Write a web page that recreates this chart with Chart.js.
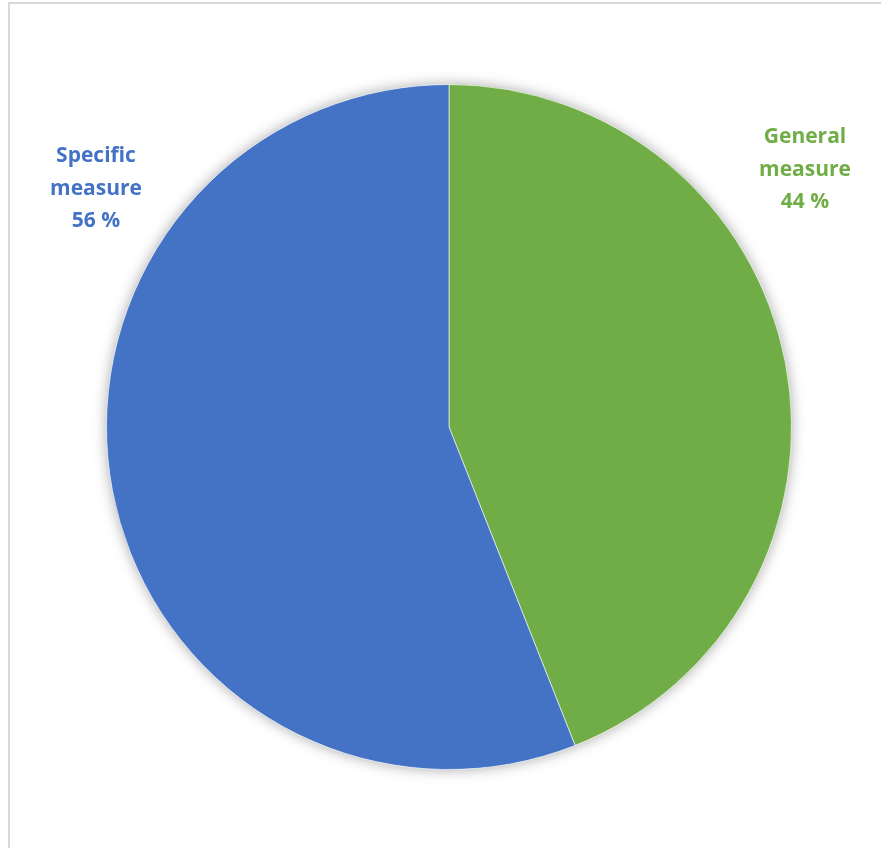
<!DOCTYPE html>
<html>
<head>
<meta charset="utf-8">
<script src="https://cdn.jsdelivr.net/npm/chart.js@4/dist/chart.umd.min.js"></script>
<style>
  html, body { margin: 0; padding: 0; background: #fff; overflow: hidden; }
  #frame {
    position: absolute; left: 8px; top: 2px;
    width: 1000px; height: 1000px;
    border-left: 2px solid #d9d9d9; border-top: 2px solid #d9d9d9;
  }
  #wrap { position: absolute; left: 0; top: 0; width: 881px; height: 848px; }
</style>
</head>
<body>
<div id="frame"></div>
<div id="wrap"><canvas id="pieChart" width="881" height="848"></canvas></div>
<script>
const labels = ["General measure", "Specific measure"];
const shares = [44, 56];
const colors = ["#70AD47", "#4472C4"];

// where each slice's text block sits (centre x, first baseline y)
const labelSpots = [
  { x: 805, y: 143 },
  { x: 96, y: 162 }
];

// soft grey halo behind the whole pie
const pieShadow = {
  id: "pieShadow",
  beforeDatasetsDraw(chart) {
    const arc = chart.getDatasetMeta(0).data[0];
    if (!arc) return;
    const ctx = chart.ctx;
    ctx.save();
    ctx.shadowColor = "rgba(0,0,0,0.35)";
    ctx.shadowBlur = 14;
    ctx.fillStyle = "#ffffff";
    ctx.beginPath();
    ctx.arc(arc.x, arc.y, arc.outerRadius, 0, Math.PI * 2);
    ctx.fill();
    ctx.restore();
  }
};

// category name split over two lines, then the percentage
const sliceLabels = {
  id: "sliceLabels",
  afterDraw(chart) {
    const ctx = chart.ctx;
    ctx.save();
    ctx.font = "bold 21px 'Open Sans', sans-serif";
    ctx.textAlign = "center";
    ctx.textBaseline = "alphabetic";
    labels.forEach((name, i) => {
      const spot = labelSpots[i];
      const lines = name.split(" ").concat([shares[i] + " %"]);
      ctx.fillStyle = colors[i];
      lines.forEach((line, j) => ctx.fillText(line, spot.x, spot.y + j * 32.5));
    });
    ctx.restore();
  }
};

new Chart(document.getElementById("pieChart").getContext("2d"), {
  type: "pie",
  data: {
    labels,
    datasets: [{
      data: shares,
      backgroundColor: colors,
      borderColor: "rgba(255,255,255,0.6)",
      borderWidth: 1
    }]
  },
  options: {
    responsive: false,
    animation: false,
    layout: { padding: { left: 106, right: 89, top: 84, bottom: 78 } },
    plugins: {
      legend: { display: false },
      tooltip: { enabled: false }
    }
  },
  plugins: [pieShadow, sliceLabels]
});
</script>
</body>
</html>
